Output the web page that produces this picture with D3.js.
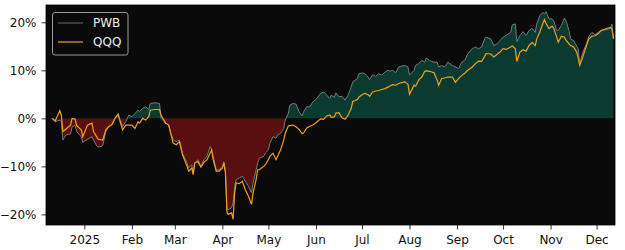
<!DOCTYPE html>
<html>
<meta charset="utf-8">
<head>
    <script src="https://d3js.org/d3.v7.min.js"></script>
    <style>
        body { margin: 0; background: #fff; }
        text { font-family: "DejaVu Sans", sans-serif; }
    </style>
</head>
<body>
    <div id="chart"></div>
</body>

<script>
    // cumulative return, %
    const dates = [
        "2024-12-11","2024-12-13","2024-12-16","2024-12-17","2024-12-18","2024-12-20","2024-12-23","2024-12-24",
        "2024-12-26","2024-12-27","2024-12-30","2024-12-31","2025-01-03","2025-01-06","2025-01-07","2025-01-09",
        "2025-01-10","2025-01-13","2025-01-15","2025-01-17","2025-01-19","2025-01-21","2025-01-23","2025-01-24",
        "2025-01-26","2025-01-28","2025-01-30","2025-02-01","2025-02-03","2025-02-05","2025-02-06","2025-02-08",
        "2025-02-10","2025-02-12","2025-02-13","2025-02-16","2025-02-19","2025-02-20","2025-02-23","2025-02-25",
        "2025-02-26","2025-02-28","2025-03-02","2025-03-04","2025-03-06","2025-03-09","2025-03-10","2025-03-12",
        "2025-03-13","2025-03-14","2025-03-16","2025-03-18","2025-03-20","2025-03-22","2025-03-24","2025-03-25",
        "2025-03-26","2025-03-28","2025-03-30","2025-04-01","2025-04-02","2025-04-03","2025-04-04","2025-04-05",
        "2025-04-07","2025-04-08","2025-04-09","2025-04-10","2025-04-12","2025-04-14","2025-04-16","2025-04-18",
        "2025-04-20","2025-04-21","2025-04-23","2025-04-24","2025-04-25","2025-04-28","2025-04-29","2025-05-01",
        "2025-05-02","2025-05-04","2025-05-06","2025-05-07","2025-05-09","2025-05-11","2025-05-12","2025-05-14",
        "2025-05-15","2025-05-17","2025-05-19","2025-05-21","2025-05-23","2025-05-24","2025-05-26","2025-05-28",
        "2025-05-30","2025-06-01","2025-06-04","2025-06-06","2025-06-08","2025-06-10","2025-06-11","2025-06-13",
        "2025-06-14","2025-06-16","2025-06-18","2025-06-20","2025-06-22","2025-06-24","2025-06-25","2025-06-28",
        "2025-06-29","2025-07-01","2025-07-03","2025-07-05","2025-07-06","2025-07-08","2025-07-10","2025-07-12",
        "2025-07-14","2025-07-16","2025-07-18","2025-07-19","2025-07-21","2025-07-23","2025-07-25","2025-07-27",
        "2025-07-29","2025-07-31","2025-08-01","2025-08-04","2025-08-05","2025-08-07","2025-08-09","2025-08-11",
        "2025-08-12","2025-08-14","2025-08-17","2025-08-19","2025-08-20","2025-08-22","2025-08-24","2025-08-26",
        "2025-08-29","2025-08-31","2025-09-02","2025-09-04","2025-09-06","2025-09-08","2025-09-11","2025-09-13",
        "2025-09-15","2025-09-17","2025-09-19","2025-09-20","2025-09-23","2025-09-25","2025-09-27","2025-09-29",
        "2025-10-01","2025-10-03","2025-10-06","2025-10-07","2025-10-09","2025-10-10","2025-10-12","2025-10-14",
        "2025-10-16","2025-10-18","2025-10-20","2025-10-22","2025-10-23","2025-10-25","2025-10-27","2025-10-28",
        "2025-10-29","2025-10-31","2025-11-02","2025-11-03","2025-11-05","2025-11-06","2025-11-08","2025-11-10",
        "2025-11-11","2025-11-13","2025-11-14","2025-11-16","2025-11-18","2025-11-19","2025-11-20","2025-11-22",
        "2025-11-24","2025-11-26","2025-11-28","2025-11-30","2025-12-02","2025-12-04","2025-12-08","2025-12-10",
        "2025-12-11","2025-12-12"
    ];

    const pwb = [
        0, -0.7, -0.35, -0.7, -4.5, -3.45, -3.25, -1.7,
        -1.5, -2.75, -3.8, -5.0, -4.35, -3.8, -4.5, -5.7,
        -6.0, -5.7, -2.75, -1.7, -1.4, 0, 1.0, 0,
        -1.7, -0.7, 0.7, 0.35, 1.0, 1.7, 1.4, 2.1,
        2.4, 1.85, 3.1, 3.25, 3.1, 0, -1.0, -1.4,
        -2.75, -4.5, -4.85, -4.5, -7.25, -9.3, -10.35, -9.65,
        -11.4, -9.3, -8.6, -10.0, -8.6, -7.9, -5.85, -6.55,
        -7.9, -10.7, -10.7, -10.0, -9.0, -11.0, -19.0, -19.0,
        -18.6, -17.6, -14.15, -12.75, -12.4, -12.05, -13.1, -14.15,
        -15.5, -13.45, -10.7, -9.3, -8.3, -7.9, -7.25, -6.55,
        -5.2, -3.8, -4.15, -3.45, -3.1, -2.05, -0.35, 1.0,
        2.75, 3.1, 2.95, 1.4, 0.5, 1.4, 2.4, 2.4,
        3.45, 3.95, 5.15, 5.5, 4.85, 4.15, 4.85, 4.35,
        5.3, 4.5, 4.6, 3.8, 4.85, 6.55, 7.6, 8.3,
        9.3, 9.45, 9.3, 8.6, 8.05, 9.1, 8.75, 9.3,
        9.0, 9.65, 10.0, 9.85, 10.0, 9.5, 10.7, 10.9,
        11.0, 10.7, 9.0, 10.0, 11.0, 11.4, 12.05, 11.7,
        12.55, 12.05, 11.7, 11.7, 10.7, 11.0, 10.7, 11.7,
        11.0, 10.7, 10.35, 11.7, 12.05, 13.45, 14.5, 14.85,
        14.5, 14.85, 16.55, 16.9, 16.55, 15.15, 15.5, 16.2,
        16.9, 17.25, 17.9, 19.45, 19.65, 16.0, 17.25, 18.05,
        17.25, 18.3, 18.75, 17.9, 19.65, 21.4, 22.05, 21.7,
        22.2, 20.7, 20.7, 20.35, 18.3, 18.3, 19.3, 20.85,
        20.35, 18.3, 16.55, 16.2, 15.0, 14.5, 11.25, 13.8,
        15.15, 17.1, 17.9, 17.4, 17.9, 18.3, 18.5, 18.75,
        19.65, 16.55
    ];

    const qqq = [
        0, -0.55, 1.6, 0.7, -2.75, -2.2, -1.4, 0,
        -0.15, -1.5, -2.4, -3.8, -1.4, -1.0, -2.75, -3.8,
        -4.35, -4.5, -2.4, -1.7, -1.25, 0, 0.85, -0.35,
        -2.4, -1.4, -1.4, -1.4, -2.1, -0.7, -1.0, 0,
        -0.35, 0.35, 1.7, 1.85, 1.85, 0.7, -1.0, -1.4,
        -2.75, -5.2, -5.5, -4.85, -7.6, -10.0, -11.0, -10.35,
        -11.7, -9.3, -9.0, -10.15, -9.15, -8.6, -7.25, -6.55,
        -8.6, -11.0, -11.0, -10.35, -9.3, -11.4, -19.65, -20.0,
        -19.65, -21.0, -15.5, -13.45, -13.6, -13.1, -14.85, -16.2,
        -17.9, -15.5, -12.75, -10.7, -10.7, -10.0, -9.65, -8.6,
        -7.9, -7.25, -8.6, -7.9, -6.55, -4.5, -3.1, -1.6,
        -1.5, -1.4, -1.75, -2.3, -3.2, -3.0, -2.0, -1.65,
        -1.4, -0.9, -0.1, -0.2, 0.5, 0.7, 0.2, 0.3,
        1.1, 1.2, 0.1, -0.2, 0.7, 2.05, 3.5, 3.9,
        4.4, 4.9, 5.2, 4.9, 4.6, 5.5, 5.7, 5.8,
        6.0, 6.2, 6.5, 6.7, 7.0, 6.9, 7.25, 7.45,
        7.6, 7.1, 5.0, 6.9, 6.7, 8.0, 8.6, 9.8,
        9.9, 9.8, 9.5, 8.0, 6.9, 8.3, 8.4, 8.6,
        8.6, 7.5, 8.3, 8.9, 9.4, 10.0, 10.7, 11.4,
        11.9, 11.85, 12.9, 13.5, 13.4, 12.8, 13.3, 13.8,
        14.5, 14.35, 14.85, 15.1, 14.5, 11.85, 13.8, 14.3,
        14.0, 15.2, 15.8, 15.15, 16.6, 18.0, 19.8, 20.55,
        19.8, 18.7, 19.2, 18.8, 16.9, 15.85, 17.1, 16.9,
        16.3, 15.5, 15.15, 14.85, 13.8, 12.6, 11.05, 12.8,
        14.8, 16.6, 17.1, 17.2, 17.6, 18.3, 18.75, 18.95,
        18.6, 16.55
    ];

    const yTicks = [-20, -10, 0, 10, 20];
    const monthTicks = ["2025-01-01","2025-02-01","2025-03-01","2025-04-01","2025-05-01","2025-06-01",
                        "2025-07-01","2025-08-01","2025-09-01","2025-10-01","2025-11-01","2025-12-01"];
    const seriesNames = ["PWB", "QQQ"];

    const width = 625, height = 250;
    const plot = { left: 46, right: 615, top: 5, bottom: 225 };

    const parse = d3.timeParse("%Y-%m-%d");
    const data = dates.map((d, i) => ({ date: parse(d), pwb: pwb[i], qqq: qqq[i] }));

    const svg = d3.select("#chart")
        .append("svg")
            .attr("width", width)
            .attr("height", height);

    const x = d3.scaleTime()
        .domain([parse("2024-12-07"), parse("2025-12-13")])
        .range([plot.left, plot.right]);

    const y = d3.scaleLinear()
        .domain([-22.2, 23.6])
        .range([plot.bottom, plot.top]);

    // background of the axes
    svg.append("rect")
        .attr("x", plot.left).attr("y", plot.top)
        .attr("width", plot.right - plot.left)
        .attr("height", plot.bottom - plot.top)
        .attr("fill", "#0a0a0a");

    const defs = svg.append("defs");
    defs.append("clipPath").attr("id", "above")
        .append("rect")
            .attr("x", plot.left).attr("y", plot.top)
            .attr("width", plot.right - plot.left)
            .attr("height", y(0) - plot.top);
    defs.append("clipPath").attr("id", "below")
        .append("rect")
            .attr("x", plot.left).attr("y", y(0))
            .attr("width", plot.right - plot.left)
            .attr("height", plot.bottom - y(0));

    const area = d3.area()
        .x(d => x(d.date))
        .y0(y(0))
        .y1(d => y(d.pwb));

    svg.append("path").datum(data)
        .attr("clip-path", "url(#above)")
        .attr("fill", "#0b3a31")
        .attr("d", area);

    svg.append("path").datum(data)
        .attr("clip-path", "url(#below)")
        .attr("fill", "#5a0f0f")
        .attr("d", area);

    const linePwb = d3.line().x(d => x(d.date)).y(d => y(d.pwb));
    const lineQqq = d3.line().x(d => x(d.date)).y(d => y(d.qqq));

    svg.append("path").datum(data)
        .attr("fill", "none")
        .attr("stroke", "#6f7d7a")
        .attr("stroke-width", 1)
        .attr("d", linePwb);

    svg.append("path").datum(data)
        .attr("fill", "none")
        .attr("stroke", "#f0a020")
        .attr("stroke-width", 1.2)
        .attr("d", lineQqq);

    // axes
    const yAxis = svg.append("g")
        .attr("transform", `translate(${plot.left},0)`)
        .call(d3.axisLeft(y)
            .tickValues(yTicks)
            .tickSize(4.5)
            .tickPadding(5)
            .tickFormat(d => (d < 0 ? "\u2212" : "") + Math.abs(d) + "%"));

    const xAxis = svg.append("g")
        .attr("transform", `translate(0,${plot.bottom})`)
        .call(d3.axisBottom(x)
            .tickValues(monthTicks.map(parse))
            .tickSize(4.5)
            .tickFormat(d => d.getMonth() === 0 ? "2025" : d3.timeFormat("%b")(d)));

    [yAxis, xAxis].forEach(g => {
        g.select(".domain").remove();
        g.selectAll("line").attr("stroke", "#000").attr("stroke-width", 0.8);
        g.selectAll("text")
            .attr("fill", "#111")
            .style("font-size", "12px")
            .style("font-family", "DejaVu Sans");
    });
    xAxis.selectAll("text").attr("y", 19).attr("dy", 0);

    // frame
    svg.append("rect")
        .attr("x", plot.left).attr("y", plot.top)
        .attr("width", plot.right - plot.left)
        .attr("height", plot.bottom - plot.top)
        .attr("fill", "none")
        .attr("stroke", "#000")
        .attr("stroke-width", 0.8);

    // legend
    const legend = svg.append("g");
    legend.append("rect")
        .attr("x", 52.5).attr("y", 12.5)
        .attr("width", 75.5).attr("height", 42.5)
        .attr("rx", 2.5)
        .attr("fill", "#0a0a0a")
        .attr("stroke", "#9a9a9a")
        .attr("stroke-width", 1);

    const legendColors = ["#5a5a5a", "#f0a020"];
    seriesNames.forEach((name, i) => {
        const ly = 23 + i * 19;
        legend.append("line")
            .attr("x1", 58).attr("x2", 83)
            .attr("y1", ly).attr("y2", ly)
            .attr("stroke", legendColors[i])
            .attr("stroke-width", 1.2);
        legend.append("text")
            .attr("x", 93).attr("y", ly + 4.3)
            .attr("fill", "#eeeeee")
            .style("font-size", "12px")
            .text(name);
    });
</script>
</html>
